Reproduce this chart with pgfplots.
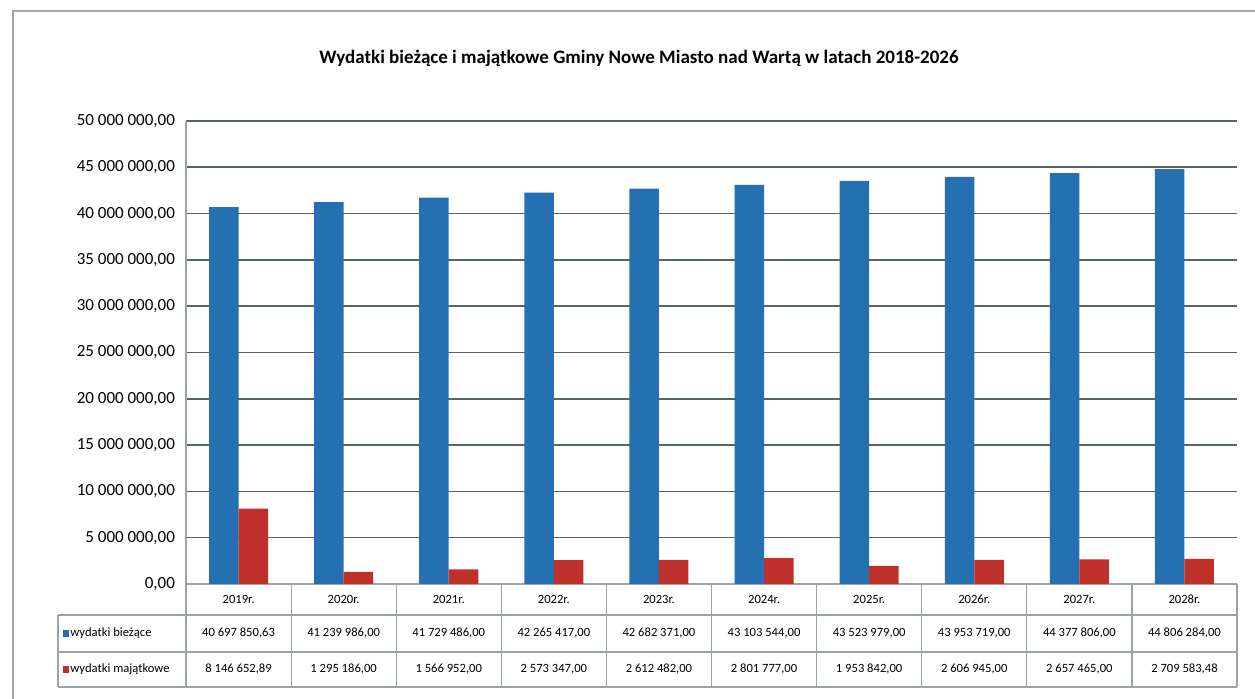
\documentclass[border=0pt]{standalone}
\usepackage{pgfplots}
\pgfplotsset{compat=1.18}
\usepackage{fontspec}
\setmainfont{Carlito}
\definecolor{cB}{HTML}{2470B0}
\definecolor{cR}{HTML}{C0302A}
\definecolor{gridc}{HTML}{566666}
\definecolor{tabc}{HTML}{9AA4A4}
\begin{document}
\begin{tikzpicture}
\useasboundingbox (0,0) rectangle (627.5pt,349.5pt);
\fill[white] (0,0) rectangle (627.5pt,349.5pt);
\begin{scope}[x=0.5pt,y=-0.5pt,shift={(0,349.5pt)}]
  \draw[gray!70, line width=1.2pt] (13,699) -- (13,11) -- (1255,11);
  \node[font=\bfseries\fontsize{9.5}{11}\selectfont] at (639,58)
    {Wydatki bieżące i majątkowe Gminy Nowe Miasto nad Wartą w latach 2018-2026};
\end{scope}

\begin{axis}[
  at={(93pt,57.5pt)}, anchor=south west, scale only axis,
  width=525.5pt, height=231.5pt,
  xmin=-0.5, xmax=9.5, ymin=0, ymax=50000000,
  ybar=0pt, bar width=14.75pt,
  xtick=\empty,
  ytick={0,5000000,10000000,15000000,20000000,25000000,30000000,35000000,40000000,45000000,50000000},
  yticklabels={{0,00},{5 000 000,00},{10 000 000,00},{15 000 000,00},{20 000 000,00},{25 000 000,00},{30 000 000,00},{35 000 000,00},{40 000 000,00},{45 000 000,00},{50 000 000,00}},
  scaled y ticks=false,
  yticklabel style={font=\fontsize{8.5}{9}\selectfont, xshift=-2pt},
  ymajorgrids, grid style={color=gridc, line width=0.8pt},
  major tick length=0pt,
  axis lines*=left, axis line style={draw=tabc, line width=0.6pt},
]
\addplot[fill=cB, draw=none] coordinates {
  (0,40697850.63) (1,41239986) (2,41729486) (3,42265417) (4,42682371)
  (5,43103544) (6,43523979) (7,43953719) (8,44377806) (9,44806284)};
\addplot[fill=cR, draw=none] coordinates {
  (0,8146652.89) (1,1295186) (2,1566952) (3,2573347) (4,2612482)
  (5,2801777) (6,1953842) (7,2606945) (8,2657465) (9,2709583.48)};
\end{axis}

\begin{scope}[x=0.5pt,y=-0.5pt,shift={(0,349.5pt)}]
  \draw[tabc, line width=0.6pt] (58,615) -- (1237,615) (58,652) -- (1237,652) (58,687) -- (1237,687) (58,615) -- (58,687);
  \foreach \k in {0,...,10} {
    \draw[tabc, line width=0.6pt] ({186+105.1*\k},584) -- ({186+105.1*\k},687);
  }
  \fill[cB] (63,630) rectangle (69,637);
  \fill[cR] (63,666) rectangle (69,673);
  \node[anchor=west, inner sep=0pt, font=\fontsize{6.3}{7}\selectfont] at (70,633.5) {wydatki bieżące};
  \node[anchor=west, inner sep=0pt, font=\fontsize{6.3}{7}\selectfont] at (70,669.5) {wydatki majątkowe};
  \foreach \y [count=\i from 0] in {2019,2020,2021,2022,2023,2024,2025,2026,2027,2028} {
    \node[font=\fontsize{6.3}{7}\selectfont] at ({186+105.1*(\i+0.5)},599.5) {\y r.};
  }
  \foreach \v [count=\i from 0] in {{40 697 850,63},{41 239 986,00},{41 729 486,00},{42 265 417,00},{42 682 371,00},{43 103 544,00},{43 523 979,00},{43 953 719,00},{44 377 806,00},{44 806 284,00}} {
    \node[font=\fontsize{6.3}{7}\selectfont] at ({186+105.1*(\i+0.5)},633.5) {\v};
  }
  \foreach \v [count=\i from 0] in {{8 146 652,89},{1 295 186,00},{1 566 952,00},{2 573 347,00},{2 612 482,00},{2 801 777,00},{1 953 842,00},{2 606 945,00},{2 657 465,00},{2 709 583,48}} {
    \node[font=\fontsize{6.3}{7}\selectfont] at ({186+105.1*(\i+0.5)},669.5) {\v};
  }
\end{scope}
\end{tikzpicture}
\end{document}
